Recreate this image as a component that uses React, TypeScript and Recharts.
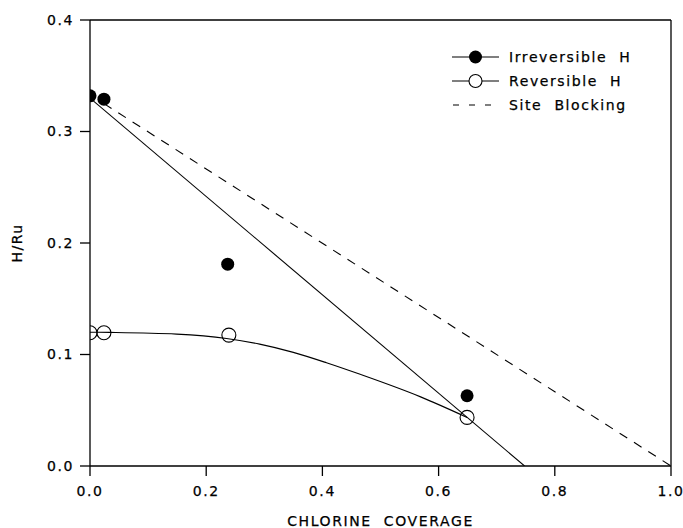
import {
  ComposedChart,
  Line,
  Scatter,
  XAxis,
  YAxis,
  ReferenceLine,
} from "recharts";

const FONT = "'DejaVu Sans', sans-serif";

// measured points (chlorine coverage, H/Ru)
const irreversibleH = [
  { x: 0.0, y: 0.332 },
  { x: 0.024, y: 0.329 },
  { x: 0.237, y: 0.181 },
  { x: 0.649, y: 0.063 },
];

const reversibleH = [
  { x: 0.0, y: 0.1195 },
  { x: 0.024, y: 0.1195 },
  { x: 0.239, y: 0.1174 },
  { x: 0.649, y: 0.0436 },
];

// fit through irreversible points
const irreversibleFit = [
  { x: 0.0, y: 0.33 },
  { x: 0.748, y: 0.0 },
];

// smooth curve through reversible points
const reversibleCurve = [
  { x: 0.0, y: 0.12 },
  { x: 0.034, y: 0.1198 },
  { x: 0.149, y: 0.1183 },
  { x: 0.235, y: 0.1144 },
  { x: 0.292, y: 0.1093 },
  { x: 0.35, y: 0.1019 },
  { x: 0.407, y: 0.0926 },
  { x: 0.465, y: 0.0822 },
  { x: 0.569, y: 0.062 },
  { x: 0.649, y: 0.0436 },
];

const siteBlocking = [
  { x: 0.024, y: 0.325 },
  { x: 1.0, y: 0.0 },
];

const xTicks = [0, 0.2, 0.4, 0.6, 0.8, 1.0];
const yTicks = [0, 0.1, 0.2, 0.3, 0.4];

const legendItems = [
  { name: "Irreversible  H", kind: "filled" },
  { name: "Reversible  H", kind: "open" },
  { name: "Site  Blocking", kind: "dashed" },
];

const FilledDot = (props: any) => (
  <circle cx={props.cx} cy={props.cy} r={6.5} fill="#000" />
);

const OpenDot = (props: any) => (
  <circle
    cx={props.cx}
    cy={props.cy}
    r={7}
    fill="none"
    stroke="#000"
    strokeWidth={1.1}
  />
);

const LegendBox = () => (
  <svg width={210} height={72} style={{ display: "block" }}>
    {legendItems.map((d, i) => {
      const y = 10 + i * 24;
      return (
        <g key={d.name}>
          {d.kind === "dashed" ? (
            <line
              x1={1}
              x2={47}
              y1={y}
              y2={y}
              stroke="#000"
              strokeWidth={1.1}
              strokeDasharray="6 10"
            />
          ) : (
            <line x1={0} x2={47} y1={y} y2={y} stroke="#000" strokeWidth={1.1} />
          )}
          {d.kind === "filled" && <circle cx={23.5} cy={y} r={6.5} fill="#000" />}
          {d.kind === "open" && (
            <circle cx={23.5} cy={y} r={6.5} fill="#fff" stroke="#000" strokeWidth={1.1} />
          )}
          <text
            x={57}
            y={y}
            dy="0.35em"
            fontFamily={FONT}
            fontSize={14}
            letterSpacing={1.6}
            fill="#000"
            stroke="#000"
            strokeWidth={0.25}
            style={{ whiteSpace: "pre" }}
          >
            {d.name}
          </text>
        </g>
      );
    })}
  </svg>
);

const YTitle = (props: any) => {
  const vb = props.viewBox || {};
  const cy = vb.y + vb.height / 2;
  return (
    <text
      x={17}
      y={cy}
      transform={`rotate(-90, 17, ${cy})`}
      textAnchor="middle"
      dominantBaseline="central"
      fontFamily={FONT}
      fontSize={14}
      letterSpacing={1.5}
      fill="#000"
      stroke="#000"
      strokeWidth={0.25}
    >
      H/Ru
    </text>
  );
};

const XTitle = (props: any) => {
  const vb = props.viewBox || {};
  const cx = vb.x + vb.width / 2;
  return (
    <text
      x={cx}
      y={521}
      textAnchor="middle"
      dominantBaseline="central"
      fontFamily={FONT}
      fontSize={14}
      letterSpacing={1.6}
      fill="#000"
      stroke="#000"
      strokeWidth={0.25}
      style={{ whiteSpace: "pre" }}
    >
      CHLORINE  COVERAGE
    </text>
  );
};

const tickStyle = {
  fontFamily: FONT,
  fontSize: 14,
  fill: "#000",
  stroke: "#000",
  strokeWidth: 0.25,
  letterSpacing: 1.6,
};

export default function App() {
  return (
    <div
      style={{
        position: "absolute",
        left: 0,
        top: 0,
        width: 683,
        height: 528,
        background: "#fff",
      }}
    >
      <ComposedChart
        width={683}
        height={528}
        margin={{ top: 20, right: 12, bottom: 0, left: 0 }}
      >
        <XAxis
          type="number"
          dataKey="x"
          domain={[0, 1]}
          ticks={xTicks}
          tickFormatter={(v: number) => v.toFixed(1)}
          allowDataOverflow
          height={62}
          tickSize={10}
          tickMargin={10}
          tick={tickStyle}
          axisLine={{ stroke: "#000", strokeWidth: 1.3 }}
          tickLine={{ stroke: "#000", strokeWidth: 1.3 }}
          label={<XTitle />}
        />
        <YAxis
          type="number"
          dataKey="y"
          domain={[0, 0.4]}
          ticks={yTicks}
          tickFormatter={(v: number) => v.toFixed(1)}
          allowDataOverflow
          width={90}
          tickSize={10}
          tickMargin={6}
          tick={tickStyle}
          axisLine={{ stroke: "#000", strokeWidth: 1.3 }}
          tickLine={{ stroke: "#000", strokeWidth: 1.3 }}
          label={<YTitle />}
        />
        <ReferenceLine y={0.4} stroke="#000" strokeWidth={1.3} />
        <ReferenceLine x={1} stroke="#000" strokeWidth={1.3} />

        <Line
          data={siteBlocking}
          dataKey="y"
          type="linear"
          stroke="#000"
          strokeWidth={1.1}
          strokeDasharray="9 8"
          dot={false}
          activeDot={false}
          isAnimationActive={false}
        />
        <Line
          data={irreversibleFit}
          dataKey="y"
          type="linear"
          stroke="#000"
          strokeWidth={1.1}
          dot={false}
          activeDot={false}
          isAnimationActive={false}
        />
        <Line
          data={reversibleCurve}
          dataKey="y"
          type="monotone"
          stroke="#000"
          strokeWidth={1.1}
          dot={false}
          activeDot={false}
          isAnimationActive={false}
        />
        <Scatter
          data={irreversibleH}
          dataKey="y"
          shape={<FilledDot />}
          isAnimationActive={false}
        />
        <Scatter
          data={reversibleH}
          dataKey="y"
          shape={<OpenDot />}
          isAnimationActive={false}
        />
      </ComposedChart>
      <div style={{ position: "absolute", left: 452, top: 47 }}>
        <LegendBox />
      </div>
    </div>
  );
}
